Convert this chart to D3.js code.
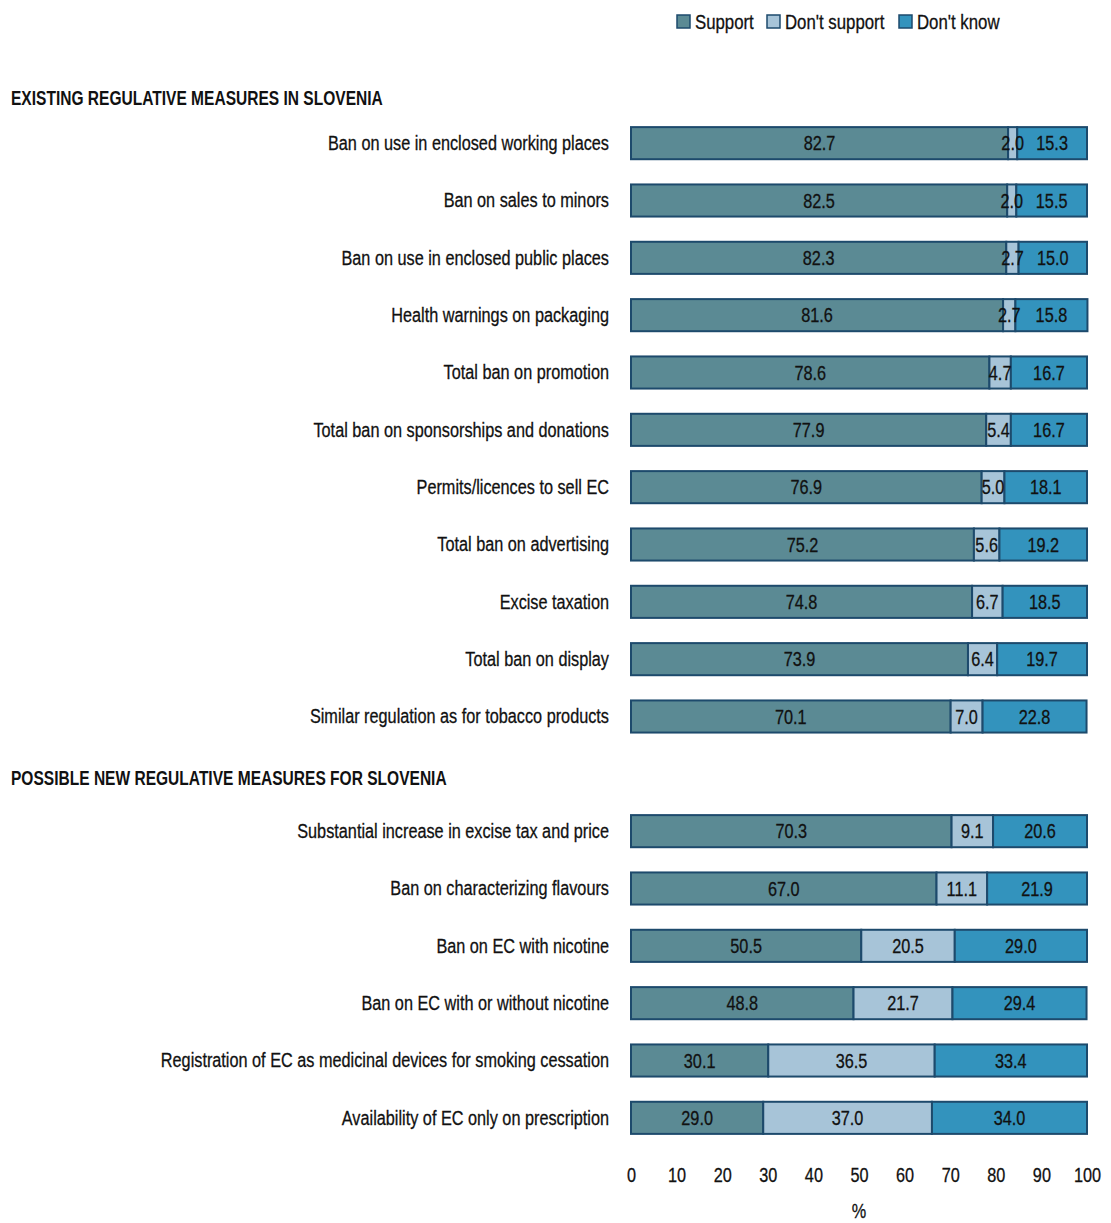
<!DOCTYPE html>
<html>
<head>
<meta charset="utf-8">
<script src="https://cdn.jsdelivr.net/npm/d3@7"></script>
<style>
  body { margin: 0; background: #fff; }
  svg text { font-family: "Liberation Sans", Arial, sans-serif; fill: #111; }
  svg text.reg { stroke: #111; stroke-width: 0.3px; }
</style>
</head>
<body>
<svg id="chart" width="1111" height="1223"></svg>
<script>
// Survey answers on e-cigarette (EC) regulation, percent of respondents
const existingMeasures = [
  "Ban on use in enclosed working places",
  "Ban on sales to minors",
  "Ban on use in enclosed public places",
  "Health warnings on packaging",
  "Total ban on promotion",
  "Total ban on sponsorships and donations",
  "Permits/licences to sell EC",
  "Total ban on advertising",
  "Excise taxation",
  "Total ban on display",
  "Similar regulation as for tobacco products"
];
const newMeasures = [
  "Substantial increase in excise tax and price",
  "Ban on characterizing flavours",
  "Ban on EC with nicotine",
  "Ban on EC with or without nicotine",
  "Registration of EC as medicinal devices for smoking cessation",
  "Availability of EC only on prescription"
];
const supportValues     = [82.7, 82.5, 82.3, 81.6, 78.6, 77.9, 76.9, 75.2, 74.8, 73.9, 70.1, 70.3, 67.0, 50.5, 48.8, 30.1, 29.0];
const dontSupportValues = [2.0, 2.0, 2.7, 2.7, 4.7, 5.4, 5.0, 5.6, 6.7, 6.4, 7.0, 9.1, 11.1, 20.5, 21.7, 36.5, 37.0];
const dontKnowValues    = [15.3, 15.5, 15.0, 15.8, 16.7, 16.7, 18.1, 19.2, 18.5, 19.7, 22.8, 20.6, 21.9, 29.0, 29.4, 33.4, 34.0];
const seriesNames = ["Support", "Don't support", "Don't know"];
const sectionTitles = ["EXISTING REGULATIVE MEASURES IN SLOVENIA", "POSSIBLE NEW REGULATIVE MEASURES FOR SLOVENIA"];
const tickValues = [0, 10, 20, 30, 40, 50, 60, 70, 80, 90, 100];

const colors = ["#5b8a94", "#a7c4d8", "#3393bd"];
const strokeColor = "#1d4a6c";
const fontSize = 21;

const svg = d3.select("#chart");

// Squeeze a text horizontally around its anchor point (narrow typeface look)
function narrow(sel, k = 0.775) {
  sel.each(function () {
    const t = d3.select(this);
    const ax = +t.attr("x") || 0;
    t.attr("transform", `translate(${ax},0) scale(${k},1) translate(${-ax},0)`);
  });
}

// Row slots: existing measures, a slot for the second heading, then new measures
const rows = [];
existingMeasures.forEach((m, i) => rows.push({ key: "r" + i, label: m, idx: i }));
rows.push({ key: "gap", label: null });
newMeasures.forEach((m, i) => rows.push({ key: "r" + (i + existingMeasures.length), label: m, idx: i + existingMeasures.length }));

const x = d3.scaleLinear().domain([0, 100]).range([631, 1087]);
const y = d3.scaleBand().domain(rows.map(r => r.key)).range([114.5, 1146.5]).paddingInner(0.44).paddingOuter(0.22);

const data = rows.filter(r => r.label !== null).map(r => ({
  key: r.key,
  label: r.label,
  Support: supportValues[r.idx],
  "Don't support": dontSupportValues[r.idx],
  "Don't know": dontKnowValues[r.idx]
}));

const stacked = d3.stack().keys(seriesNames)(data);

const layers = svg.append("g").selectAll("g")
  .data(stacked)
  .join("g")
  .attr("fill", (d, i) => colors[i]);

layers.selectAll("rect")
  .data(d => d)
  .join("rect")
  .attr("x", d => x(d[0]))
  .attr("y", d => y(d.data.key))
  .attr("width", d => x(d[1]) - x(d[0]))
  .attr("height", y.bandwidth())
  .attr("stroke", strokeColor)
  .attr("stroke-width", 2);

// Value labels centred in each segment, drawn above all bars
svg.append("g").selectAll("text")
  .data(stacked.flat())
  .join("text")
  .attr("class", "reg")
  .attr("x", d => (x(d[0]) + x(d[1])) / 2)
  .attr("y", d => y(d.data.key) + y.bandwidth() / 2)
  .attr("dy", "0.34em")
  .attr("text-anchor", "middle")
  .attr("font-size", fontSize)
  .text(d => (d[1] - d[0]).toFixed(1))
  .call(narrow);

// Category labels
svg.append("g").selectAll("text")
  .data(data)
  .join("text")
  .attr("class", "reg")
  .attr("x", 609)
  .attr("y", d => y(d.key) + y.bandwidth() / 2)
  .attr("dy", "0.32em")
  .attr("text-anchor", "end")
  .attr("font-size", fontSize)
  .text(d => d.label)
  .call(narrow);

// Section headings
svg.append("g").selectAll("text")
  .data([[sectionTitles[0], 98], [sectionTitles[1], 778]])
  .join("text")
  .attr("x", 11)
  .attr("y", d => d[1])
  .attr("dy", "0.34em")
  .attr("font-size", fontSize)
  .attr("font-weight", "bold")
  .text(d => d[0])
  .call(narrow, 0.74);

// X axis (labels only)
const axis = svg.append("g").attr("transform", "translate(0,1167)")
  .call(d3.axisBottom(x).tickValues(tickValues).tickSize(0).tickPadding(0).tickFormat(d3.format("d")));
axis.select(".domain").remove();
axis.attr("font-family", null).attr("font-size", null);
axis.selectAll("text").attr("class", "reg").attr("font-size", fontSize).attr("dy", "0.71em").attr("fill", "#111").call(narrow);

svg.append("text").attr("class", "reg").attr("x", x(50)).attr("y", 1211).attr("dy", "0.34em")
  .attr("text-anchor", "middle").attr("font-size", fontSize).text("%").call(narrow);

// Legend
const legendX = [677, 767, 899];
const legend = svg.append("g").selectAll("g")
  .data(seriesNames)
  .join("g")
  .attr("transform", (d, i) => `translate(${legendX[i]},15)`);
legend.append("rect")
  .attr("width", 13).attr("height", 13)
  .attr("fill", (d, i) => colors[i])
  .attr("stroke", strokeColor).attr("stroke-width", 1.5);
legend.append("text")
  .attr("class", "reg")
  .attr("x", 18).attr("y", 7).attr("dy", "0.32em")
  .attr("font-size", fontSize)
  .text(d => d)
  .call(narrow, 0.8);
</script>
</body>
</html>
